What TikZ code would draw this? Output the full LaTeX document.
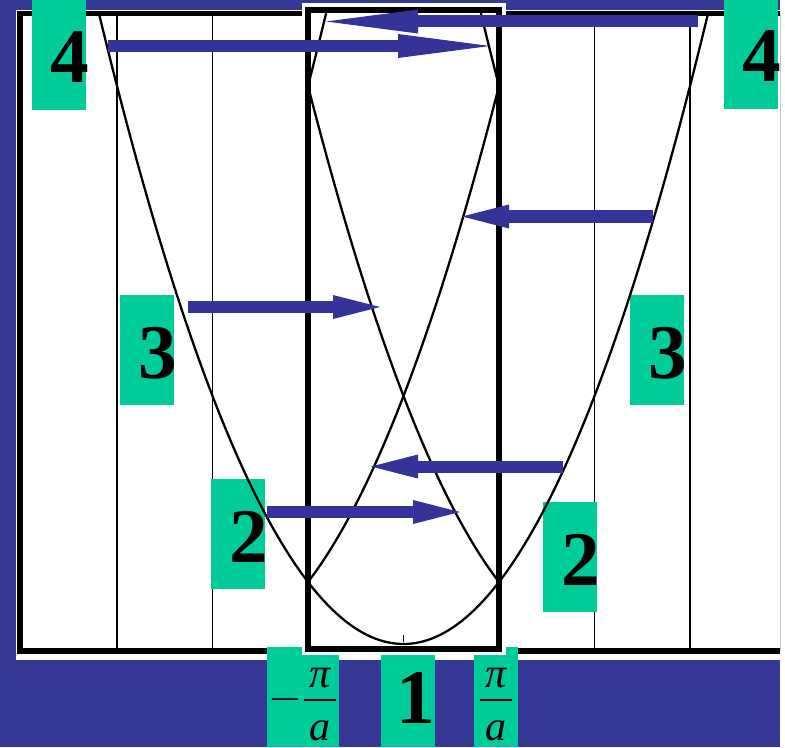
\documentclass[tikz,border=0pt]{standalone}
\usepackage{amsmath}
\usepackage{fontspec}
\setmainfont{Liberation Serif}
\usepackage{tikz}
\usetikzlibrary{arrows.meta}
\definecolor{slide}{HTML}{363896}
\definecolor{band}{HTML}{00CC99}
\definecolor{push}{HTML}{333399}
\newcommand{\overa}{\genfrac{}{}{1.1pt}{0}
  {\raisebox{-4pt}[0pt][0pt]{\kern3pt\itshape π\kern3pt}}{\mbox{\kern3pt\itshape a\kern3pt}}}

\begin{document}
\begin{tikzpicture}[
  numbox/.style={fill=band, inner sep=0pt, minimum width=1.08cm, text width=1.08cm,
                 align=right, text height=1.66cm, text depth=0.54cm,
                 font=\fontsize{44}{44}\selectfont\bfseries},
  fracbox/.style={fill=band, inner sep=0pt, text height=1.27cm, text depth=0.73cm,
                  font=\fontsize{24}{24}\selectfont},
  frame/.style={line width=0.11cm},
  zone/.style={line width=0.12cm},
  gridline/.style={line width=0.8pt},
  curve/.style={line width=1.3pt, line join=round},
  push/.style={draw=push, line width=0.24cm,
               -{Triangle[length=0.94cm, width=0.48cm, line width=0pt]}},
  longpush/.style={push, -{Triangle[length=1.84cm, width=0.48cm, line width=0pt]}}
]
\useasboundingbox (0,0) rectangle (15.7,14.94);
\fill[slide] (0,0) rectangle (15.7,14.94);
\fill[white] (15.6,0) rectangle (15.7,14.94);
\fill[white] (0.32,1.74) rectangle (15.6,14.74);

\begin{scope}[shift={(8.07,2.06)}, x=1.91cm, y=1.24cm]
  \foreach \k in {-3,-2,2,3}
    \draw[gridline] (\k,-0.11) -- (\k,10.17);
  \draw[gridline, gray!45] (3.95,-0.11) -- (3.95,10.17);
  \draw[gridline] (0,-0.08) -- (0,0.14);
\end{scope}
\draw[frame] (15.6,14.67) -- (0.4,14.67) -- (0.4,1.92) -- (15.6,1.92);

\node[numbox] (four left) at (1.18,13.84) {4\kern-2pt};
\node[numbox] (four right) at (15.02,13.86) {4\kern-2pt};
\node[numbox] (three left) at (2.94,7.94) {3\kern-2pt};
\node[numbox] (three right) at (13.14,7.94) {3\kern-2pt};
\node[numbox] (two left) at (4.75,4.26) {2\kern-2pt};
\node[numbox] (two right) at (11.40,3.80) {2\kern-2pt};
\node[numbox, text height=1.52cm, text depth=0.48cm] (one) at (8.16,1.00) {1};
\node[fracbox, minimum width=1.44cm] (kmin) at (6.06,1.00) {\(\displaystyle -\overa\)};
\node[fracbox, minimum width=0.88cm] (kmax) at (9.92,1.00) {\(\displaystyle \overa\)};

\draw[white, line width=0.26cm] (6.16,1.97) rectangle (9.98,14.74);

\begin{scope}[shift={(8.07,2.06)}, x=1.91cm, y=1.24cm]
  \draw[curve] plot[domain=-3.19:3.19, samples=140] (\x,{\x*\x});
  \draw[curve] plot[domain=-1:1, samples=60] (\x,{(\x+2)^2});
  \draw[curve] plot[domain=-1:1, samples=60] (\x,{(\x-2)^2});
  \draw[curve] plot[domain=-1:-0.81, samples=10] (\x,{(\x+4)^2});
  \draw[curve] plot[domain=0.81:1, samples=10] (\x,{(\x-4)^2});
\end{scope}
\draw[zone] (6.16,1.97) rectangle (9.98,14.74);

\coordinate (r4a) at (2.16,14.02);
\coordinate (r4b) at (9.80,14.02);
\coordinate (l4a) at (13.96,14.51);
\coordinate (l4b) at (6.52,14.51);
\coordinate (r3a) at (3.76,8.80);
\coordinate (r3b) at (7.60,8.80);
\coordinate (l3a) at (13.06,10.61);
\coordinate (l3b) at (9.24,10.61);
\coordinate (r2a) at (5.34,4.70);
\coordinate (r2b) at (9.20,4.70);
\coordinate (l2a) at (11.26,5.61);
\coordinate (l2b) at (7.42,5.61);
\draw[longpush] (r4a) -- (r4b);
\draw[longpush] (l4a) -- (l4b);
\draw[push] (r3a) -- (r3b);
\draw[push] (l3a) -- (l3b);
\draw[push] (r2a) -- (r2b);
\draw[push] (l2a) -- (l2b);
\end{tikzpicture}
\end{document}
